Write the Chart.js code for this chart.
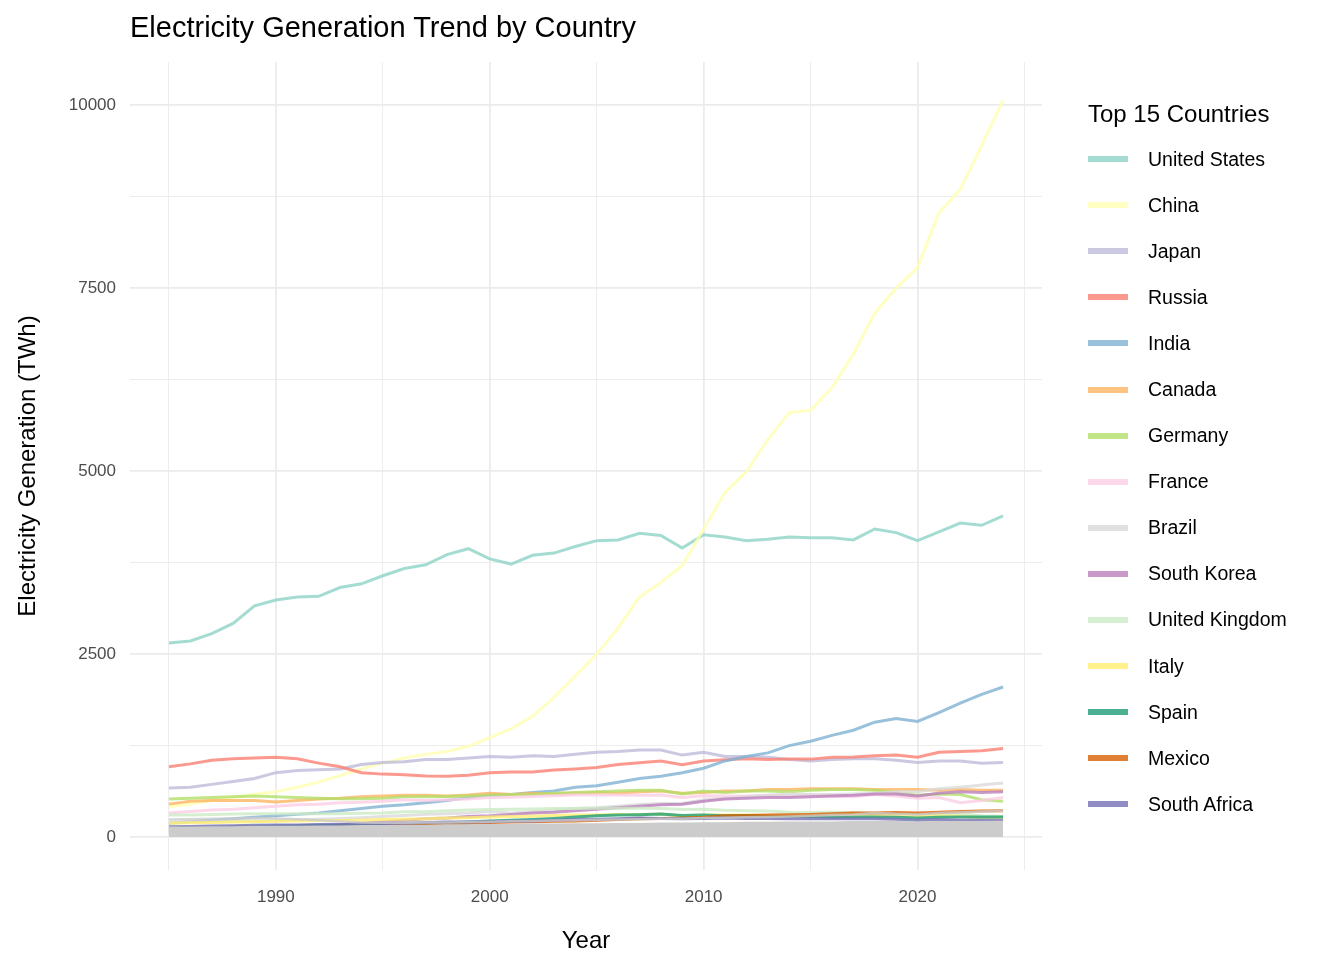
<!DOCTYPE html>
<html><head><meta charset="utf-8">
<script src="https://cdn.jsdelivr.net/npm/chart.js@4"></script>
<style>
body{margin:0;background:#fff;font-family:"Liberation Sans",Arial,sans-serif;}
#wrap{position:relative;width:1344px;height:960px;}
#title{position:absolute;left:130px;top:11px;font-size:29px;color:#000;}
#legend{position:absolute;left:1088px;top:100px;}
#legend .t{font-size:24px;margin-bottom:8px;}
#legend .i{display:flex;align-items:center;height:46.1px;font-size:19.5px;}
#legend .sw{width:40px;height:6px;margin-right:20px;}
</style></head><body>
<div id="wrap"><canvas id="c" width="1344" height="960"></canvas>
<div id="title">Electricity Generation Trend by Country</div>
<div id="legend"></div></div>
<script>
const years=[];for(let y=1985;y<=2024;y++)years.push(y);
const countries=["United States","China","Japan","Russia","India","Canada","Germany","France","Brazil","South Korea","United Kingdom","Italy","Spain","Mexico","South Africa"];
const colors=["#8DD3C7","#FFFFB3","#BEBADA","#FB8072","#80B1D3","#FDB462","#B3DE69","#FCCDE5","#D9D9D9","#BC80BD","#CCEBC5","#FFED6F","#1B9E77","#D95F02","#7570B3"];
const usa=[2650,2680,2780,2920,3160,3240,3280,3290,3410,3460,3570,3670,3720,3860,3940,3800,3730,3850,3880,3970,4050,4060,4150,4120,3950,4130,4100,4050,4070,4100,4090,4090,4060,4210,4160,4050,4170,4290,4260,4390];
const china=[410,450,500,545,585,620,680,750,840,930,1010,1080,1130,1170,1240,1360,1480,1650,1910,2200,2500,2860,3280,3480,3710,4210,4710,4990,5430,5800,5830,6140,6600,7160,7500,7780,8530,8850,9450,10070];
const japan=[670,680,720,760,800,880,910,920,930,990,1020,1030,1060,1060,1080,1100,1090,1110,1100,1130,1160,1170,1190,1190,1120,1160,1100,1100,1090,1060,1040,1060,1070,1070,1050,1020,1040,1040,1010,1020];
const russia=[960,1000,1050,1070,1080,1090,1070,1010,960,880,860,850,835,830,845,880,890,890,915,930,950,990,1015,1040,990,1040,1055,1070,1060,1065,1065,1090,1095,1110,1120,1090,1160,1170,1180,1210];
const india=[190,210,230,250,270,290,310,330,360,390,420,440,470,500,540,570,580,610,630,680,700,750,800,830,880,940,1040,1100,1150,1250,1310,1390,1460,1570,1620,1580,1700,1830,1950,2050];
const canada=[450,490,500,500,500,480,500,520,530,550,560,570,570,560,575,600,580,600,590,600,610,600,620,630,600,610,630,630,650,650,660,660,660,650,650,650,640,650,640,640];
const germany=[520,530,540,550,560,550,540,530,525,525,530,550,550,555,560,570,580,580,600,610,620,630,640,640,590,630,610,630,630,620,640,650,650,640,610,570,590,580,510,490];
const france=[330,350,370,380,400,420,440,450,470,475,490,510,500,510,520,540,545,555,565,575,575,575,570,575,540,565,560,560,570,560,570,560,550,580,560,530,540,470,500,540];
const brazil=[200,210,210,215,220,225,235,245,255,265,280,295,310,320,330,350,330,345,365,390,400,420,445,460,460,510,530,550,570,590,580,580,590,600,620,620,660,680,710,740];
const korea=[60,70,80,100,110,120,135,150,170,190,210,230,250,260,280,290,310,330,340,360,380,400,420,440,450,490,520,530,540,540,550,560,570,590,590,560,600,620,610,620];
const uk=[300,300,310,315,320,320,320,320,320,325,330,345,345,360,370,375,380,385,390,390,395,395,395,390,375,380,365,360,355,340,335,340,335,330,325,310,310,320,290,285];
const italy=[190,195,200,205,210,215,220,225,225,230,240,245,250,260,265,275,280,285,295,300,300,310,310,315,290,300,300,300,290,280,285,290,295,290,290,280,290,285,265,270];
const spain=[120,125,130,135,145,150,155,160,160,165,165,175,185,195,205,220,230,240,255,275,290,300,305,315,295,300,290,295,285,280,280,275,275,275,270,260,270,275,275,275];
const mexico=[90,100,105,110,115,120,125,130,135,145,150,160,170,180,190,200,205,210,215,220,230,240,250,255,260,270,290,295,300,305,310,320,330,330,335,330,340,350,355,360];
const safrica=[140,145,150,155,160,165,165,170,175,180,185,190,200,205,205,210,215,220,230,240,245,250,260,255,250,255,260,255,255,250,250,250,250,250,245,230,240,230,230,230];
const otherA=[130,130,135,135,140,140,140,145,145,150,150,155,155,160,160,165,165,170,170,175,175,180,180,185,185,190,190,195,195,200,200,200,205,205,205,200,205,205,205,210];
const otherB=[240,245,250,255,260,255,245,230,215,200,195,195,200,200,205,210,215,220,225,230,235,240,245,250,250,260,265,270,275,280,290,300,310,330,320,310,330,340,350,360];
const series=[usa,china,japan,russia,india,canada,germany,france,brazil,korea,uk,italy,spain,mexico,safrica];
const yTicks=[0,2500,5000,7500,10000];
const xTicks=[1990,2000,2010,2020];
function hexA(h,a){const n=parseInt(h.slice(1),16);return `rgba(${n>>16},${(n>>8)&255},${n&255},${a})`;}
const ds=[];
ds.push({data:otherA.map((v,i)=>({x:years[i],y:v})),borderColor:"#CCCCCC",backgroundColor:"#CCCCCC",fill:'origin',borderWidth:2,pointRadius:0});
ds.push({data:otherB.map((v,i)=>({x:years[i],y:v})),borderColor:"rgba(204,204,204,0.8)",borderWidth:2.5,pointRadius:0});
for(let k=series.length-1;k>=0;k--){
 ds.push({label:countries[k],data:series[k].map((v,i)=>({x:years[i],y:v})),borderColor:hexA(colors[k],0.8),borderWidth:3,pointRadius:0,tension:0});
}
const lg=document.getElementById('legend');
lg.innerHTML='<div class="t">Top 15 Countries</div>'+countries.map((c,i)=>`<div class="i"><div class="sw" style="background:${hexA(colors[i],0.8)}"></div>${c}</div>`).join('');
const gridMajor="#EBEBEB";
new Chart(document.getElementById('c'),{type:'line',data:{datasets:ds},
options:{responsive:false,animation:false,
layout:{padding:{left:0,right:302,top:62,bottom:0}},
plugins:{legend:{display:false},tooltip:{enabled:false}},
scales:{
x:{type:'linear',min:1983.18,max:2025.82,border:{display:false},
 afterBuildTicks:s=>{s.ticks=[1985,1990,1995,2000,2005,2010,2015,2020,2025].map(v=>({value:v}));},
 afterFit:s=>{s.height=90;},
 ticks:{autoSkip:false,maxRotation:0,color:'#4D4D4D',font:{size:17,family:'Liberation Sans'},padding:17,callback:v=>xTicks.includes(v)?String(v):''},
 grid:{color:gridMajor,lineWidth:c=>xTicks.includes(c.tick&&c.tick.value)?1.8:0.9,drawTicks:false},
 title:{display:true,text:'Year',color:'#000',font:{size:24,family:'Liberation Sans'},padding:{top:4}}},
y:{type:'linear',min:-450,max:10590,border:{display:false},
 afterBuildTicks:s=>{s.ticks=[0,1250,2500,3750,5000,6250,7500,8750,10000].map(v=>({value:v}));},
 afterFit:s=>{s.width=130;},
 ticks:{autoSkip:false,color:'#4D4D4D',font:{size:17,family:'Liberation Sans'},padding:14,callback:v=>yTicks.includes(v)?String(v):''},
 grid:{color:gridMajor,lineWidth:c=>yTicks.includes(c.tick&&c.tick.value)?1.8:0.9,drawTicks:false},
 title:{display:true,text:'Electricity Generation (TWh)',color:'#000',font:{size:24,family:'Liberation Sans'},padding:{top:14,bottom:4}}}
}}});
</script></body></html>
